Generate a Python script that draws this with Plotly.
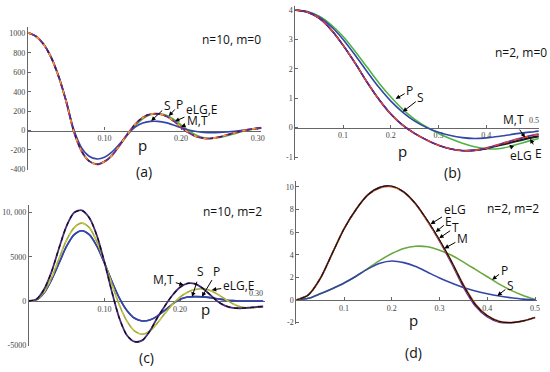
import plotly.graph_objects as go

W, H = 550, 372

# ---------------- Panel (a): n=10, m=0 ----------------
a_p = [0, 0.01, 0.02, 0.03, 0.04, 0.05, 0.06, 0.07, 0.08, 0.09, 0.10, 0.11, 0.12, 0.13, 0.14, 0.15,
       0.16, 0.17, 0.18, 0.19, 0.20, 0.21, 0.22, 0.23, 0.24, 0.25, 0.26, 0.27, 0.28, 0.29, 0.30, 0.305]
a_M = [1010, 975, 895, 760, 560, 300, -10, -210, -315, -348, -320, -255, -150, -35, 65, 135,
       170, 173, 150, 100, 35, -22, -62, -80, -80, -66, -44, -22, -2, 14, 25, 29]
a_T = [1010, 975, 895, 760, 560, 300, -10, -210, -315, -348, -320, -255, -150, -35, 65, 135,
       170, 173, 150, 100, 35, -22, -62, -80, -80, -66, -44, -22, -2, 14, 25, 29]
a_eLG = [1010, 975, 895, 760, 560, 300, -10, -210, -315, -348, -320, -255, -150, -37, 62, 133,
         169, 173, 152, 103, 38, -20, -61, -80, -81, -67, -45, -23, -3, 13, 25, 29]
a_E = [1010, 975, 895, 760, 560, 300, -10, -210, -315, -348, -320, -255, -150, -37, 62, 133,
       169, 173, 152, 103, 38, -20, -61, -80, -81, -67, -45, -23, -3, 13, 25, 29]
a_P = [1010, 975, 895, 760, 562, 302, -8, -208, -313, -346, -320, -256, -152, -45, 50, 122,
       163, 175, 160, 118, 58, -2, -48, -73, -80, -72, -54, -32, -10, 8, 22, 27]
a_S = [1010, 975, 897, 765, 568, 310, 10, -175, -265, -292, -275, -220, -135, -40, 35, 78,
       95, 95, 82, 58, 30, 5, -10, -18, -21, -19, -14, -7, 2, 11, 21, 25]
a_xticks = [0.10, 0.20, 0.30]
a_xlabels = ["0.10", "0.20", "0.30"]
a_yticks = [-400, -200, 0, 200, 400, 600, 800, 1000]
a_ylabels = ["-400", "-200", "0", "200", "400", "600", "800", "1000"]

# ---------------- Panel (b): n=2, m=0 ----------------
b_p = [0, 0.025, 0.05, 0.075, 0.1, 0.125, 0.15, 0.175, 0.2, 0.225, 0.25, 0.275, 0.3, 0.325,
       0.35, 0.375, 0.4, 0.425, 0.45, 0.475, 0.5, 0.51]
b_M = [4.0, 3.93, 3.72, 3.33, 2.8, 2.2, 1.55, 0.96, 0.46, 0.08, -0.2, -0.42, -0.6, -0.72,
       -0.78, -0.77, -0.7, -0.58, -0.46, -0.35, -0.25, -0.22]
b_T = [4.0, 3.93, 3.72, 3.33, 2.8, 2.2, 1.55, 0.96, 0.46, 0.08, -0.2, -0.42, -0.6, -0.72,
       -0.78, -0.77, -0.7, -0.58, -0.46, -0.35, -0.25, -0.22]
b_eLG = [4.0, 3.93, 3.72, 3.33, 2.8, 2.2, 1.55, 0.96, 0.46, 0.08, -0.2, -0.42, -0.6, -0.72,
         -0.78, -0.77, -0.71, -0.6, -0.5, -0.4, -0.31, -0.28]
b_E = [4.0, 3.93, 3.72, 3.33, 2.8, 2.2, 1.55, 0.96, 0.46, 0.08, -0.2, -0.42, -0.6, -0.72,
       -0.78, -0.78, -0.72, -0.62, -0.53, -0.43, -0.34, -0.31]
b_P = [4.0, 3.95, 3.79, 3.5, 3.1, 2.6, 2.06, 1.52, 1.04, 0.62, 0.28, 0.02, -0.2, -0.38,
       -0.53, -0.65, -0.72, -0.72, -0.64, -0.52, -0.41, -0.37]
b_S = [4.0, 3.94, 3.76, 3.44, 3.0, 2.47, 1.91, 1.37, 0.9, 0.52, 0.22, 0.0, -0.16, -0.27,
       -0.34, -0.37, -0.35, -0.3, -0.24, -0.18, -0.14, -0.12]
b_xticks = [0.1, 0.2, 0.3, 0.4]
b_xlabels = ["0.1", "0.2", "0.3", "0.4"]
b_xlast = "0.5"
b_yticks = [-1, 0, 1, 2, 3, 4]
b_ylabels = ["-1", "0", "1", "2", "3", "4"]

# ---------------- Panel (c): n=10, m=2 ----------------
c_p = [0, 0.01, 0.02, 0.03, 0.04, 0.05, 0.06, 0.07, 0.08, 0.09, 0.10, 0.11, 0.12, 0.13, 0.14, 0.15,
       0.16, 0.17, 0.18, 0.19, 0.20, 0.21, 0.22, 0.23, 0.24, 0.25, 0.26, 0.27, 0.28, 0.29, 0.30, 0.31]
c_M = [0, 200, 1300, 3300, 6000, 8500, 10000, 10250, 9400, 7400, 4400, 1000, -2000, -3900, -4600, -4450,
       -3400, -1900, -550, 650, 1550, 2000, 1950, 1450, 700, -50, -550, -780, -820, -760, -680, -620]
c_T = [0, 200, 1300, 3300, 6000, 8500, 10000, 10250, 9400, 7400, 4400, 1000, -2000, -3900, -4600, -4450,
       -3400, -1900, -550, 650, 1550, 2000, 1950, 1450, 700, -50, -550, -780, -820, -760, -680, -620]
c_eLG = [0, 150, 1000, 2600, 4800, 6900, 8300, 8800, 8300, 6700, 4400, 1900, -500, -2300, -3400, -3750,
         -3400, -2500, -1400, -400, 450, 1000, 1300, 1380, 1200, 750, 200, -300, -650, -780, -720, -620]
c_E = [0, 150, 1000, 2600, 4800, 6900, 8300, 8800, 8300, 6700, 4400, 1900, -500, -2300, -3400, -3750,
       -3400, -2500, -1400, -400, 450, 1000, 1300, 1380, 1200, 750, 200, -300, -650, -780, -720, -620]
c_P = [0, 130, 900, 2400, 4300, 6200, 7500, 7950, 7500, 6200, 4300, 2200, 300, -1100, -1950, -2250,
       -2150, -1700, -1050, -350, 200, 450, 500, 470, 380, 250, 120, 40, 5, 0, 0, 0]
c_S = [0, 130, 900, 2400, 4300, 6200, 7500, 7950, 7500, 6200, 4300, 2200, 300, -1100, -1950, -2250,
       -2150, -1700, -1050, -350, 200, 450, 500, 470, 380, 250, 120, 40, 5, 0, 0, 0]
c_xticks = [0.10, 0.20]
c_xlabels = ["0.10", "0.20"]
c_xlast = "0.30"
c_yticks = [-5000, 0, 5000, 10000]
c_ylabels = ["-5000", "0", "5000", "10, 000"]

# ---------------- Panel (d): n=2, m=2 ----------------
d_p = [0, 0.025, 0.05, 0.075, 0.1, 0.125, 0.15, 0.175, 0.2, 0.225, 0.25, 0.275, 0.3, 0.325,
       0.35, 0.375, 0.4, 0.425, 0.45, 0.475, 0.5]
d_T = [0, 0.45, 1.9, 4.1, 6.3, 8.0, 9.3, 9.95, 10.05, 9.55, 8.5, 7.0, 5.3, 3.4,
       1.3, -0.4, -1.4, -1.9, -2.0, -1.85, -1.55]
d_eLG = [0, 0.45, 1.9, 4.1, 6.3, 8.0, 9.3, 9.9, 10.0, 9.5, 8.45, 6.95, 5.25, 3.4,
         1.35, -0.35, -1.38, -1.88, -2.0, -1.85, -1.55]
d_E = [0, 0.45, 1.9, 4.1, 6.3, 8.0, 9.3, 9.92, 10.02, 9.52, 8.47, 6.97, 5.28, 3.4,
       1.32, -0.38, -1.4, -1.9, -2.0, -1.85, -1.55]
d_M = [0, 0.45, 1.9, 4.1, 6.3, 8.0, 9.3, 9.95, 10.05, 9.55, 8.48, 6.95, 5.2, 3.25,
       1.15, -0.52, -1.48, -1.95, -2.02, -1.85, -1.55]
d_P = [0, 0.15, 0.55, 1.0, 1.5, 2.1, 2.8, 3.5, 4.1, 4.55, 4.75, 4.7, 4.4, 3.95,
       3.35, 2.7, 2.05, 1.4, 0.85, 0.4, 0.05]
d_S = [0, 0.15, 0.55, 1.0, 1.5, 2.1, 2.75, 3.25, 3.45, 3.3, 2.95, 2.45, 1.95, 1.5,
       1.1, 0.8, 0.55, 0.35, 0.2, 0.08, 0.02]
d_xticks = [0.1, 0.2, 0.3, 0.4, 0.5]
d_xlabels = ["0.1", "0.2", "0.3", "0.4", "0.5"]
d_yticks = [-2, 0, 2, 4, 6, 8, 10]
d_ylabels = ["-2", "0", "2", "4", "6", "8", "10"]


def px(x):
    return x / W


def py(y):
    return 1 - y / H


# panel geometry: x-domain (px), y-domain (px), x range, y range
panels = [
    dict(k="", xd=(28, 262.9), yd=(27.1, 172.2), xr=[0, 0.305], yr=[-410, 1070],
         xt=a_xticks, xl=a_xlabels, yt=a_yticks, yl=a_ylabels),
    dict(k="2", xd=(297, 541.8), yd=(5.7, 161.7), xr=[0, 0.51], yr=[-1.1, 4.15],
         xt=b_xticks, xl=b_xlabels, yt=b_yticks, yl=b_ylabels),
    dict(k="3", xd=(29, 266.1), yd=(207.7, 349.9), xr=[0, 0.312], yr=[-5100, 10800],
         xt=c_xticks, xl=c_xlabels, yt=c_yticks, yl=c_ylabels),
    dict(k="4", xd=(298, 540.4), yd=(183.1, 327.3), xr=[0, 0.505], yr=[-2.1, 10.5],
         xt=d_xticks, xl=d_xlabels, yt=d_yticks, yl=d_ylabels),
]

PURPLE = "#6b2b8f"
RED = "#e8432c"
ORANGE = "#f5a52a"
GREEN = "#4cb447"
BLUE = "#3346a6"
OLIVE = "#9aab3a"
YEL = "#d7c23c"

series = [
    ("", a_p, [("P", a_P, GREEN, "solid", 1.6), ("S", a_S, BLUE, "solid", 1.6),
               ("M", a_M, PURPLE, "solid", 1.8), ("T", a_T, "#3a1a55", "3px,6px", 1.4),
               ("eLG", a_eLG, RED, "5px,5px", 1.4), ("E", a_E, ORANGE, "3px,7px", 1.4)]),
    ("2", b_p, [("P", b_P, GREEN, "solid", 1.6), ("S", b_S, BLUE, "solid", 1.6),
                ("E", b_E, "#2a2a2a", "solid", 1.3), ("eLG", b_eLG, "#111111", "solid", 1.3),
                ("M", b_M, PURPLE, "solid", 1.8), ("T", b_T, RED, "5px,5px", 1.4)]),
    ("3", c_p, [("P", c_P, BLUE, "solid", 1.6), ("S", c_S, BLUE, "solid", 1.6),
                ("eLG", c_eLG, OLIVE, "solid", 1.6), ("E", c_E, YEL, "4px,5px", 1.3),
                ("M", c_M, "#4a2a80", "solid", 1.8), ("T", c_T, "#111111", "4px,4px", 1.3)]),
    ("4", d_p, [("P", d_P, "#6aa83c", "solid", 1.6), ("S", d_S, BLUE, "solid", 1.6),
                ("M", d_M, PURPLE, "solid", 1.7), ("eLG", d_eLG, RED, "solid", 1.6),
                ("E", d_E, YEL, "4px,4px", 1.4), ("T", d_T, "#111111", "solid", 1.2)]),
]

fig = go.Figure()
for k, xs, curves in series:
    for name, ys, col, dash, w in curves:
        fig.add_trace(go.Scatter(
            x=xs, y=ys, mode="lines", name=name,
            line=dict(color=col, width=w, dash=dash, shape="spline", smoothing=0.8),
            xaxis="x" + k, yaxis="y" + k, showlegend=False, hoverinfo="skip"))

tickfont = dict(family="Liberation Serif", size=8, color="#444444")
layout = dict(width=W, height=H, margin=dict(l=0, r=0, t=0, b=0),
              paper_bgcolor="white", plot_bgcolor="rgba(0,0,0,0)", showlegend=False)
for p in panels:
    k = p["k"]
    y0, y1 = p["yr"]
    dom_y = [py(p["yd"][1]), py(p["yd"][0])]
    pos0 = dom_y[0] + (0 - y0) / (y1 - y0) * (dom_y[1] - dom_y[0])
    layout["xaxis" + k] = dict(
        domain=[px(p["xd"][0]), px(p["xd"][1])], range=p["xr"], anchor="free", position=pos0,
        showgrid=False, zeroline=False, showline=True, linecolor="#666666", linewidth=1.2,
        tickvals=p["xt"], ticktext=p["xl"], ticks="inside", ticklen=3, tickcolor="#666666",
        tickfont=tickfont, layer="below traces", fixedrange=True)
    layout["yaxis" + k] = dict(
        domain=dom_y, range=p["yr"], anchor="x" + k,
        showgrid=False, zeroline=False, showline=True, linecolor="#666666", linewidth=1.2,
        tickvals=p["yt"], ticktext=p["yl"], ticks="inside", ticklen=3, tickcolor="#666666",
        tickfont=tickfont, layer="below traces", fixedrange=True)

ann = []
sans = "Open Sans"


def text_px(x, y, t, size):
    ann.append(dict(x=px(x), y=py(y), xref="paper", yref="paper", text=t, showarrow=False,
                    xanchor="center", yanchor="middle",
                    font=dict(family=sans, size=size, color="#111111")))


# titles
text_px(233, 40, "n=10, m=0", 12)
text_px(524, 53, "n=2, m=0", 12)
text_px(234, 214, "n=10, m=2", 12)
text_px(516, 211, "n=2, m=2", 12)
# panel letters
text_px(145, 173, "(a)", 14)
text_px(455, 174, "(b)", 14)
text_px(147, 361, "(c)", 14)
text_px(416, 356, "(d)", 14)
# axis names
text_px(143, 147, "p", 15)
text_px(405, 153, "p", 15)
text_px(207, 312, "p", 15)
text_px(416, 323, "p", 15)

# last tick labels placed above the axis
ann.append(dict(x=0.5, y=0, xref="x2", yref="y2", text=b_xlast, showarrow=False,
                yanchor="bottom", xanchor="center", yshift=1, font=tickfont))
ann.append(dict(x=0.30, y=0, xref="x3", yref="y3", text=c_xlast, showarrow=False,
                yanchor="bottom", xanchor="center", yshift=1, font=tickfont))


def arrow(k, x, y, t, ax, ay):
    ann.append(dict(x=x, y=y, xref="x" + k, yref="y" + k, text=t, showarrow=True,
                    ax=ax, ay=ay, arrowhead=2, arrowsize=0.9, arrowwidth=1,
                    arrowcolor="black", standoff=0, startstandoff=0,
                    font=dict(family=sans, size=12, color="#111111")))


# (a)
arrow("", 0.161, 100, "S", 16, -15)
arrow("", 0.184, 150, "P", 11, -12)
arrow("", 0.192, 95, "eLG,E", 27, -12)
arrow("", 0.200, 40, "M,T", 16, -6)
# (b)
arrow("2", 0.210, 0.98, "P", 14, -8)
arrow("2", 0.225, 0.54, "S", 18, -14)
arrow("2", 0.481, -0.34, "M,T", -12, -18)
arrow("2", 0.448, -0.58, "eLG", 12, 11)
arrow("2", 0.492, -0.38, "E", 8, 15)
# (c)
arrow("3", 0.205, 1800, "M,T", -20, -6)
arrow("3", 0.216, 480, "S", 8, -25)
arrow("3", 0.229, 480, "P", 15, -25)
arrow("3", 0.242, 1250, "eLG,E", 27, -4)
# (d)
arrow("4", 0.281, 6.7, "eLG", 24, -15)
arrow("4", 0.292, 6.0, "E", 13, -11)
arrow("4", 0.299, 5.45, "T", 16, -11)
arrow("4", 0.310, 4.55, "M", 18, -10)
arrow("4", 0.410, 1.8, "P", 12, -9)
arrow("4", 0.421, 0.38, "S", 13, -10)

layout["annotations"] = ann
fig.update_layout(**layout)
fig.write_html("out.html", config={"displayModeBar": False},
               post_script="document.body.style.margin='0px';")
